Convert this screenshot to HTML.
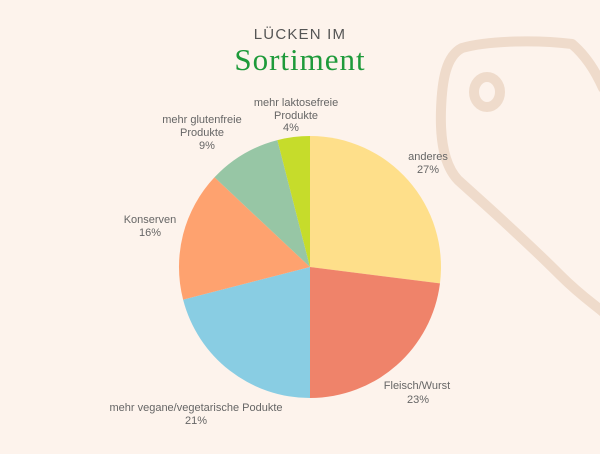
<!DOCTYPE html>
<html><head><meta charset="utf-8"><style>
body{margin:0;width:600px;height:449px;background:#FDF3EC;overflow:hidden;font-family:"Liberation Sans",sans-serif}
</style></head><body>
<svg width="600" height="449" viewBox="0 0 600 449" xmlns="http://www.w3.org/2000/svg">
<rect width="600" height="449" fill="#FDF3EC"/>
<g fill="none" stroke="#EFDBCB" stroke-width="10" stroke-linecap="round" stroke-linejoin="round">
<path d="M603,88 C595,70 585,55 572,44 C540,40 490,40 462,48 C446,56 442,80 441,110 C440,140 444,165 458,180 C480,200 520,235 560,275 C580,295 595,305 603,312"/>
<ellipse cx="487" cy="92" rx="13" ry="15"/>
</g>
<ellipse cx="485" cy="92" rx="3" ry="5" fill="#FDF3EC"/>
<text x="300" y="39" text-anchor="middle" font-size="15" fill="#555" letter-spacing="1.2">LÜCKEN IM</text>
<text x="300" y="70" text-anchor="middle" font-size="31" fill="#1E9A3A" font-family="Liberation Serif,serif" letter-spacing="1">Sortiment</text>
<g>
<path d="M310,267 L310,136 A131,131 0 0 1 439.97,283.4 Z" fill="#FEDF8A"/>
<path d="M310,267 L439.97,283.4 A131,131 0 0 1 310,398 Z" fill="#EF836A"/>
<path d="M310,267 L310,398 A131,131 0 0 1 183.1,299.6 Z" fill="#89CDE3"/>
<path d="M310,267 L183.1,299.6 A131,131 0 0 1 214.5,177.3 Z" fill="#FEA26F"/>
<path d="M310,267 L214.5,177.3 A131,131 0 0 1 277.4,140.1 Z" fill="#97C6A5"/>
<path d="M310,267 L277.4,140.1 A131,131 0 0 1 310,136 Z" fill="#C6DC2B"/>
</g>
<g font-size="11" fill="#666" text-anchor="middle">
<text x="296" y="106">mehr laktosefreie</text>
<text x="296" y="119">Produkte</text>
<text x="291" y="131">4%</text>
<text x="202" y="123">mehr glutenfreie</text>
<text x="202" y="136">Produkte</text>
<text x="207" y="149">9%</text>
<text x="428" y="160">anderes</text>
<text x="428" y="173">27%</text>
<text x="150" y="223">Konserven</text>
<text x="150" y="236">16%</text>
<text x="417" y="389">Fleisch/Wurst</text>
<text x="418" y="403">23%</text>
<text x="196" y="411">mehr vegane/vegetarische Podukte</text>
<text x="196" y="424">21%</text>
</g>
</svg>
</body></html>
